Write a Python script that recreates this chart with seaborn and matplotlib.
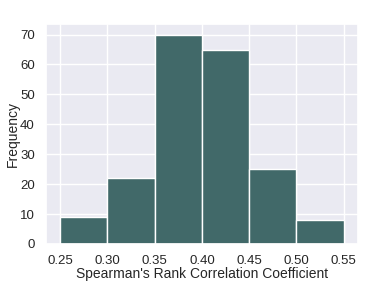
import numpy as np
import matplotlib
matplotlib.use("Agg")
import matplotlib.pyplot as plt
import seaborn as sns

# bin edges and counts
bin_edges = [0.25, 0.30, 0.35, 0.40, 0.45, 0.50, 0.55]
bin_centers = [0.275, 0.325, 0.375, 0.425, 0.475, 0.525]
counts = [9, 22, 70, 65, 25, 8]

sns.set_theme(style="darkgrid")
plt.rcParams['font.family'] = ['Arial', 'Liberation Sans', 'DejaVu Sans']

fig = plt.figure(figsize=(3.82, 2.87), dpi=100)
ax = fig.add_axes([0.12, 0.15, 0.817, 0.766])

sns.histplot(x=bin_centers, weights=counts, bins=bin_edges, color="#416969",
             alpha=1, edgecolor="white", linewidth=1, ax=ax)

ax.set_xticks([0.25, 0.30, 0.35, 0.40, 0.45, 0.50, 0.55])
ax.set_xticklabels(["0.25", "0.30", "0.35", "0.40", "0.45", "0.50", "0.55"])
ax.tick_params(labelsize=9.5, pad=2)
ax.set_xlabel("Spearman's Rank Correlation Coefficient", fontsize=10, labelpad=0)
ax.set_ylabel("Frequency", fontsize=10, labelpad=0)

fig.savefig("out.png", dpi=100)
